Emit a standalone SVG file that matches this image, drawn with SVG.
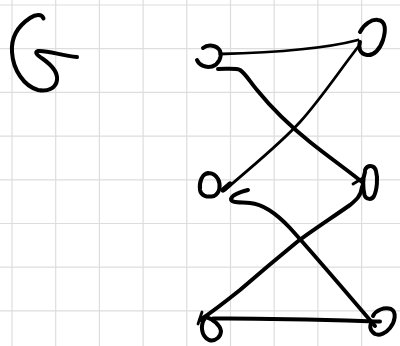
<svg xmlns="http://www.w3.org/2000/svg" width="400" height="346" viewBox="0 0 400 346">
<style>
.grid line{stroke:#dddddd;stroke-width:1.2}
.ink{fill:none;stroke:#000;stroke-width:4;stroke-linecap:round;stroke-linejoin:round}
.thin{stroke-width:2.8}
</style>
<rect width="400" height="346" fill="#fff"/>
<g class="grid">
<line x1="12" y1="0" x2="12" y2="346"/>
<line x1="55.7" y1="0" x2="55.7" y2="346"/>
<line x1="99.4" y1="0" x2="99.4" y2="346"/>
<line x1="143.1" y1="0" x2="143.1" y2="346"/>
<line x1="186.8" y1="0" x2="186.8" y2="346"/>
<line x1="230.5" y1="0" x2="230.5" y2="346"/>
<line x1="274.2" y1="0" x2="274.2" y2="346"/>
<line x1="317.9" y1="0" x2="317.9" y2="346"/>
<line x1="361.6" y1="0" x2="361.6" y2="346"/>
<line x1="0" y1="5" x2="400" y2="5"/>
<line x1="0" y1="48.7" x2="400" y2="48.7"/>
<line x1="0" y1="92.4" x2="400" y2="92.4"/>
<line x1="0" y1="136.1" x2="400" y2="136.1"/>
<line x1="0" y1="179.8" x2="400" y2="179.8"/>
<line x1="0" y1="223.5" x2="400" y2="223.5"/>
<line x1="0" y1="267.2" x2="400" y2="267.2"/>
<line x1="0" y1="310.9" x2="400" y2="310.9"/>
</g>
<g id="symbol">
<path class="ink" d="M43.5,18.5 C42,14 36,14 30,18 C18,26 11,38 12,52 C13,70 24,86 38,90 C48,92 56,88 57,80 C58,72 50,64 43,59 C37,55 34,52 38,51 C48,50 62,56 77,57"/>
</g>
<g id="node-top-left">
<path class="ink" d="M203,48 C208,44 217,45 220,51 C222,57 219,64 212,66.5 C205,68 199,65 197,60"/>
</g>
<g id="node-top-right">
<path class="ink" d="M360,32 C364,24 372,19 378,20 C386,21 386,30 383,40 C380,49 374,56 367,55 C360,54 358,48 360,42"/>
</g>
<g id="node-mid-left">
<path class="ink" d="M208,173 C202,174 199,182 200,190 C201,196 207,197.5 214,196 C220,193 221,185 218,179 C215,174 211,172 206,174"/>
</g>
<g id="node-mid-right">
<path class="ink" d="M365,170 C367,165 374,164 376,171 C378,178 377,190 374,196 C372,200 366,200 364.5,195 C363,188 363,178 365,172"/>
</g>
<g id="node-bottom-left">
<path class="ink" d="M205,318 C200,325 201,336 209,340 C216,342 221,336 221,331 C220,325 213,319 206,317"/>
</g>
<g id="node-bottom-right">
<path class="ink" d="M373,316 C376,310 384,307 391,309 C397,312 395,322 390,328 C386,333 380,336 375,334 C370,331 369,326 372,322"/>
</g>
<g id="connectors">
<path class="ink thin" d="M220,54 C260,53 320,50 358,40"/>
<path class="ink" d="M218,69 C228,69 236,68 240,70 C246,74 250,82 257,90 C270,106 290,126 310,142 C330,158 350,172 362,182"/>
<path class="ink thin" d="M353,184 L363,178 L362,187"/>
<path class="ink thin" d="M358,47 C340,70 320,100 300,122 C280,144 250,168 225,190"/>
<path class="ink" style="stroke-width:5" d="M223,190 L230,184"/>
<path class="ink" d="M248,190 C240,192 232,195 231,199 C231,203 240,202 250,203 C262,204 275,212 290,228 C310,250 340,285 375,326"/>
<path class="ink" d="M362,187 C361,196 356,200 350,205 C330,219 310,232 297,242 C275,260 255,277 240,290 C225,302 212,312 200,320"/>
<path class="ink thin" d="M198,324 L202,312"/>
<path class="ink" d="M380,321.5 C330,320 270,318 213,318.5"/>
</g>
</svg>
